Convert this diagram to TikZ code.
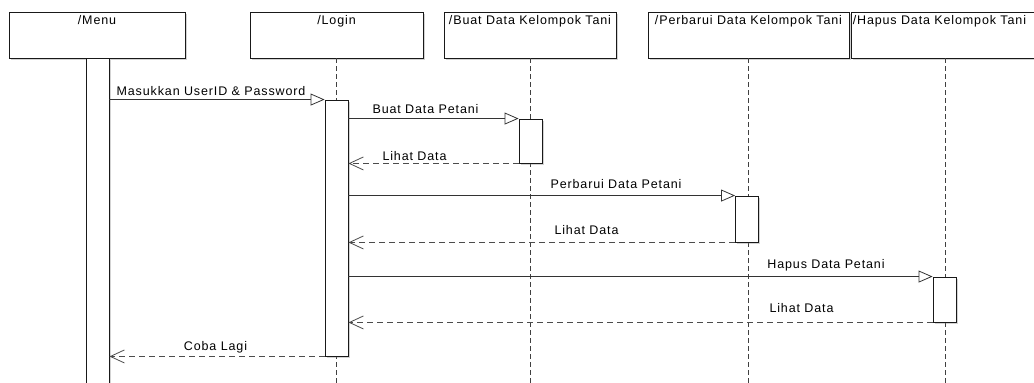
\documentclass[tikz,border=0pt]{standalone}
\usepackage{fontspec}
\setmainfont{Liberation Sans}[LetterSpace=7]
\usetikzlibrary{arrows.meta,shadows}

\begin{document}
\begin{tikzpicture}[x=1pt, y=-1pt,
    actor/.style={rectangle, draw=black!90, line width=0.9pt, fill=white, minimum height=46pt, inner sep=0pt,
        drop shadow={shadow xshift=1.5pt, shadow yshift=-1.5pt, opacity=0.35}},
    bar/.style={rectangle, draw=black!90, line width=0.9pt, fill=white, minimum width=23pt, inner sep=0pt,
        drop shadow={shadow xshift=1.5pt, shadow yshift=-1.5pt, opacity=0.35}},
    lifeline/.style={draw=black!75, line width=1pt, dash pattern=on 5pt off 3pt},
    call/.style={draw=black!80, line width=0.8pt, -{Triangle[open, length=14pt, width=12pt]}},
    reply/.style={draw=black!70, line width=0.8pt, dash pattern=on 6pt off 4pt, -{Straight Barb[length=14pt, width=13pt]}},
    msglabel/.style={font=\fontsize{12.5}{14}\selectfont, anchor=base, inner sep=0pt},
    title/.style={font=\fontsize{12.5}{14}\selectfont, anchor=base, inner sep=0pt}
]
    \useasboundingbox (0,0) rectangle (1034,383);
    \coordinate (bottom) at (0,390);

    % Actors
    \node[actor, minimum width=176pt] (menu) at (97,35) {};
    \node[actor, minimum width=173pt] (login) at (336.5,35) {};
    \node[actor, minimum width=172pt] (buat) at (530,35) {};
    \node[actor, minimum width=201pt] (perbarui) at (748.5,35) {};
    \node[actor, minimum width=188pt] (hapus) at (945,35) {};

    \node[title] at ([yshift=-12.5pt]menu.north) {/Menu};
    \node[title] at ([yshift=-12.5pt]login.north) {/Login};
    \node[title] at ([yshift=-12.5pt]buat.north) {/Buat Data Kelompok Tani};
    \node[title] at ([yshift=-12.5pt]perbarui.north) {/Perbarui Data Kelompok Tani};
    \node[title, anchor=base west] at ([xshift=2pt, yshift=-12.5pt]hapus.north west) {/Hapus Data Kelompok Tani};

    % Lifelines
    \draw[lifeline] (login.south) -- (login.south |- bottom);
    \draw[lifeline] (buat.south) -- (buat.south |- bottom);
    \draw[lifeline] (perbarui.south) -- (perbarui.south |- bottom);
    \draw[lifeline] (hapus.south) -- (hapus.south |- bottom);

    % Activations
    \node[bar, minimum height=332pt] (menuBar) at (97.5,224) {};
    \node[bar, minimum height=256pt] (loginBar) at (336.5,228) {};
    \node[bar, minimum height=44pt] (buatBar) at (530.5,141) {};
    \node[bar, minimum height=46pt] (perbaruiBar) at (747,219) {};
    \node[bar, minimum height=45pt] (hapusBar) at (944.5,299.5) {};

    % Messages
    \draw[call] (loginBar.north west -| menuBar.east) -- (loginBar.north west);
    \node[msglabel] at (211,95) {Masukkan UserID \& Password};

    \draw[call] (buatBar.north west -| loginBar.east) -- (buatBar.north west);
    \node[msglabel] at (425.5,113) {Buat Data Petani};
    \draw[reply] (buatBar.south west) -- (buatBar.south west -| loginBar.east);
    \node[msglabel] at (414.5,160) {Lihat Data};

    \draw[call] (perbaruiBar.north west -| loginBar.east) -- (perbaruiBar.north west);
    \node[msglabel] at (616,188) {Perbarui Data Petani};
    \draw[reply] (perbaruiBar.south west) -- (perbaruiBar.south west -| loginBar.east);
    \node[msglabel] at (586.5,234) {Lihat Data};

    \draw[call] (hapusBar.north west -| loginBar.east) -- (hapusBar.north west);
    \node[msglabel] at (826,268) {Hapus Data Petani};
    \draw[reply] (hapusBar.south west) -- (hapusBar.south west -| loginBar.east);
    \node[msglabel] at (801.5,312) {Lihat Data};

    % Back to menu
    \draw[reply] (loginBar.south west) -- (loginBar.south west -| menuBar.east);
    \node[msglabel] at (215.5,350) {Coba Lagi};

\end{tikzpicture}
\end{document}
